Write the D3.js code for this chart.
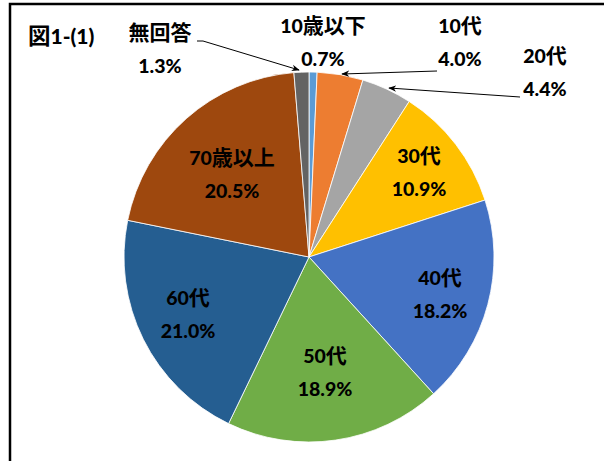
<!DOCTYPE html>
<html>
<head>
<meta charset="utf-8">
<script src="https://cdn.jsdelivr.net/npm/d3@7"></script>
<style>
  body { margin: 0; background: #fff; }
  svg text { font-family: Lato, "Noto Sans CJK JP", sans-serif; font-weight: 900; fill: #000; }
  svg tspan.cjk { font-weight: 700; }
</style>
</head>
<body>
<div id="chart"></div>
<script>
const categories = ['10歳以下', '10代', '20代', '30代', '40代', '50代', '60代', '70歳以上', '無回答'];
const values = [0.7, 4.0, 4.4, 10.9, 18.2, 18.9, 21.0, 20.5, 1.3];
const colors = ['#5B9BD5', '#ED7D31', '#A5A5A5', '#FFC000', '#4472C4', '#70AD47', '#255E91', '#9E480E', '#636363'];

const w = 604, h = 461;
const cx = 309, cy = 257, r = 185;

const svg = d3.select('#chart').append('svg').attr('width', w).attr('height', h);

svg.append('defs').append('marker')
  .attr('id', 'arr').attr('viewBox', '0 0 10 10').attr('refX', 9).attr('refY', 5)
  .attr('markerWidth', 8).attr('markerHeight', 8).attr('orient', 'auto')
  .append('path').attr('d', 'M0,1 L10,5 L0,9 L3,5 Z').attr('fill', '#000');

// frame
svg.append('path').attr('d', `M10,${h + 5} L10,4 L${w + 5},4`)
  .attr('fill', 'none').attr('stroke', '#000').attr('stroke-width', 2.5);

// write text with CJK runs slightly larger, like the original's mixed fonts
function runs(sel, str, big) {
  str.match(/[\u3000-\u9fff]+|[^\u3000-\u9fff]+/g).forEach((s) => {
    const cjk = /[\u3000-\u9fff]/.test(s);
    sel.append('tspan').attr('class', cjk ? 'cjk' : null)
      .attr('font-size', (cjk ? 21 : 19.5) + (big || 0)).text(s);
  });
}

runs(svg.append('text').attr('x', 28).attr('y', 44), '図1-(1)', 1.5);

const pie = d3.pie().sort(null).value((d) => d);
const arcs = pie(values);
const arc = d3.arc().innerRadius(0).outerRadius(r);

const g = svg.append('g').attr('transform', `translate(${cx},${cy})`);
g.selectAll('path').data(arcs).join('path')
  .attr('d', arc)
  .attr('fill', (d, i) => colors[i])
  .attr('stroke', '#fff').attr('stroke-width', 0.8);

// label centres
const labelPos = [
  [323, 25], [460, 25], [545, 55], [419, 155], [440, 277],
  [325, 355], [188, 297], [232, 157], [160, 32]
];
categories.forEach((c, i) => {
  const [x, y] = labelPos[i];
  runs(svg.append('text').attr('text-anchor', 'middle').attr('x', x).attr('y', y + 8), c);
  svg.append('text').attr('text-anchor', 'middle').attr('x', x).attr('y', y + 41)
    .attr('font-size', 19.5).text(values[i].toFixed(1) + '%');
});

// leader lines
const leaders = [
  [[197, 41], [203, 41], [299, 70]],
  [[437, 71], [342, 74]],
  [[520, 97], [389, 88]]
];
leaders.forEach((pts) => {
  svg.append('path').attr('d', d3.line()(pts))
    .attr('fill', 'none').attr('stroke', '#000').attr('stroke-width', 1)
    .attr('marker-end', 'url(#arr)');
});
</script>
</body>
</html>
